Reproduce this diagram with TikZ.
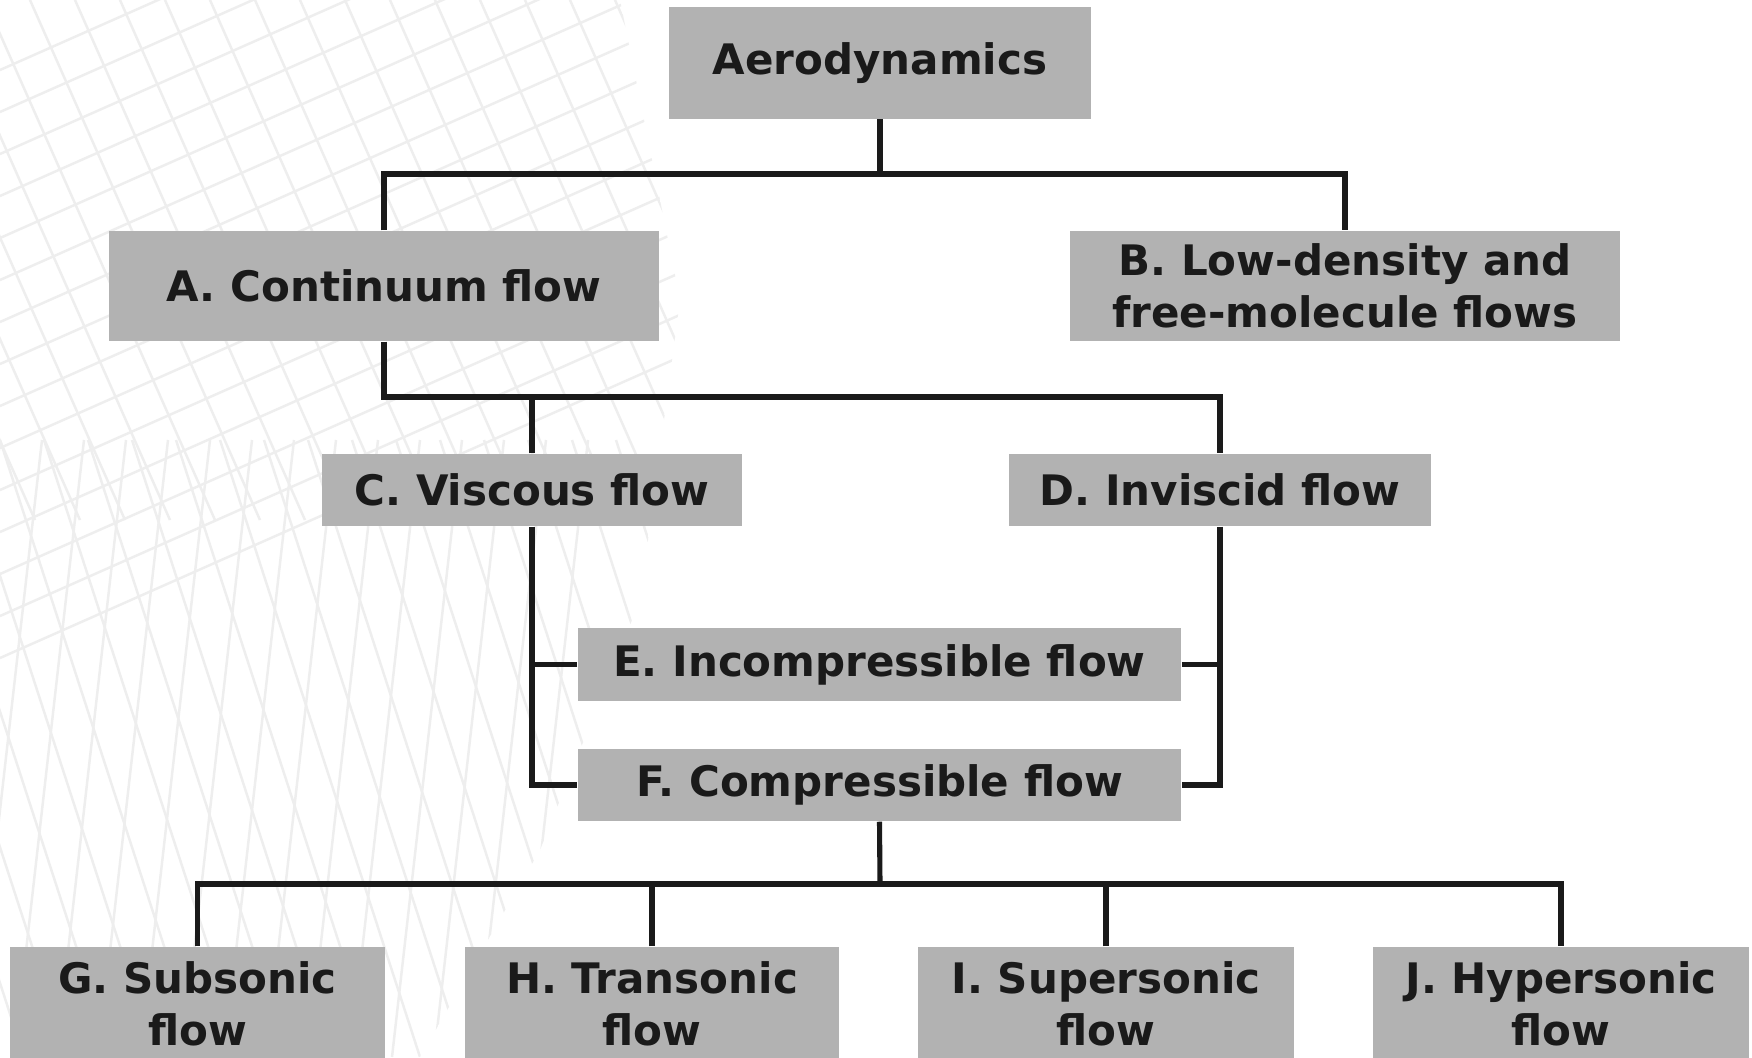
\documentclass[tikz,border=0pt]{standalone}
\usepackage{fontspec}
\setmainfont{DejaVu Sans}
\usetikzlibrary{positioning,calc}
\definecolor{BoxGrey}{HTML}{B2B2B2}
\definecolor{InkBlack}{HTML}{1A1A1A}
\definecolor{MeshGrey}{HTML}{EEEEEE}

\begin{document}
\begin{tikzpicture}[
    x=0.01cm, y=-0.01cm,
    box/.style={
      fill=BoxGrey,
      text=InkBlack,
      inner sep=0pt,
      minimum height=#1,
      align=center,
      font=\fontsize{11.95pt}{14.8pt}\selectfont\bfseries
    },
    box/.default=1.1cm,
    link/.style={
      draw=InkBlack,
      line width=1.45pt
    },
    mesh/.style={
      draw=MeshGrey,
      line width=0.7pt
    }
  ]

  \useasboundingbox (0,0) rectangle (1752,1057);
  \fill[white] (0,0) rectangle (1752,1057);

  % faint mesh in the background
  \begin{scope}
    \clip (0,0) -- (620,0) -- (680,300) -- (640,600) -- (540,850) -- (420,1057) -- (0,1057) -- cycle;
    \foreach \i in {-10,...,18}
      \draw[mesh] (\i*45-60,0) -- (\i*45+170,520);
    \foreach \j in {0,...,14}
      \draw[mesh] (0,\j*42+70) -- (700,\j*42-240);
    \foreach \i in {-6,...,14}
      \draw[mesh] (\i*44,440) -- (\i*44+200,1057);
    \foreach \i in {0,...,14}
      \draw[mesh] (\i*42,440) -- (\i*42-70,1057);
  \end{scope}

  \node[box, minimum width=4.22cm, minimum height=1.11cm] (aero)   at (880,63)    {Aerodynamics};
  \node[box, minimum width=5.50cm]  (contin) at (384,286)   {A. Continuum flow};
  \node[box, minimum width=5.49cm]  (lowden) at (1345,286)  {B. Low-density and\\free-molecule flows};
  \node[box=0.72cm, minimum width=4.20cm] (visc)   at (532,490)   {C. Viscous flow};
  \node[box=0.72cm, minimum width=4.21cm] (invisc) at (1220,490)  {D. Inviscid flow};
  \node[box=0.73cm, minimum width=6.03cm] (incomp) at (879.5,664.5) {E. Incompressible flow};
  \node[box=0.72cm, minimum width=6.03cm] (comp)   at (879.5,785) {F. Compressible flow};
  \node[box=1.14cm, minimum width=3.75cm] (subs)   at (197.5,1004) {G. Subsonic\\flow};
  \node[box=1.14cm, minimum width=3.74cm] (trans)  at (652,1004)  {H. Transonic\\flow};
  \node[box=1.14cm, minimum width=3.76cm] (supers) at (1106,1004) {I. Supersonic\\flow};
  \node[box=1.14cm, minimum width=3.76cm] (hypers) at (1561,1004) {J. Hypersonic\\flow};

  \coordinate (splitAB) at (880,174);
  \coordinate (splitCD) at (384,397);
  \coordinate (splitGJ) at (880,884);

  \draw[link] (aero.south) -- (splitAB);
  \draw[link] (contin.north) |- (splitAB) -| (lowden.north);

  \draw[link] (contin.south) -- (splitCD) -| (invisc.north);
  \draw[link] (visc.north) -- (visc.north |- splitCD);

  \draw[link] (visc.south) |- (comp.west);
  \draw[link] (incomp.west) -- (incomp.west -| visc.south);
  \draw[link] (invisc.south) |- (comp.east);
  \draw[link] (incomp.east) -- (incomp.east -| invisc.south);

  \draw[link] (comp.south) -- (splitGJ);
  \draw[link] (subs.north) |- (splitGJ) -| (hypers.north);
  \draw[link] (trans.north) -- (trans.north |- splitGJ);
  \draw[link] (supers.north) -- (supers.north |- splitGJ);

\end{tikzpicture}
\end{document}
